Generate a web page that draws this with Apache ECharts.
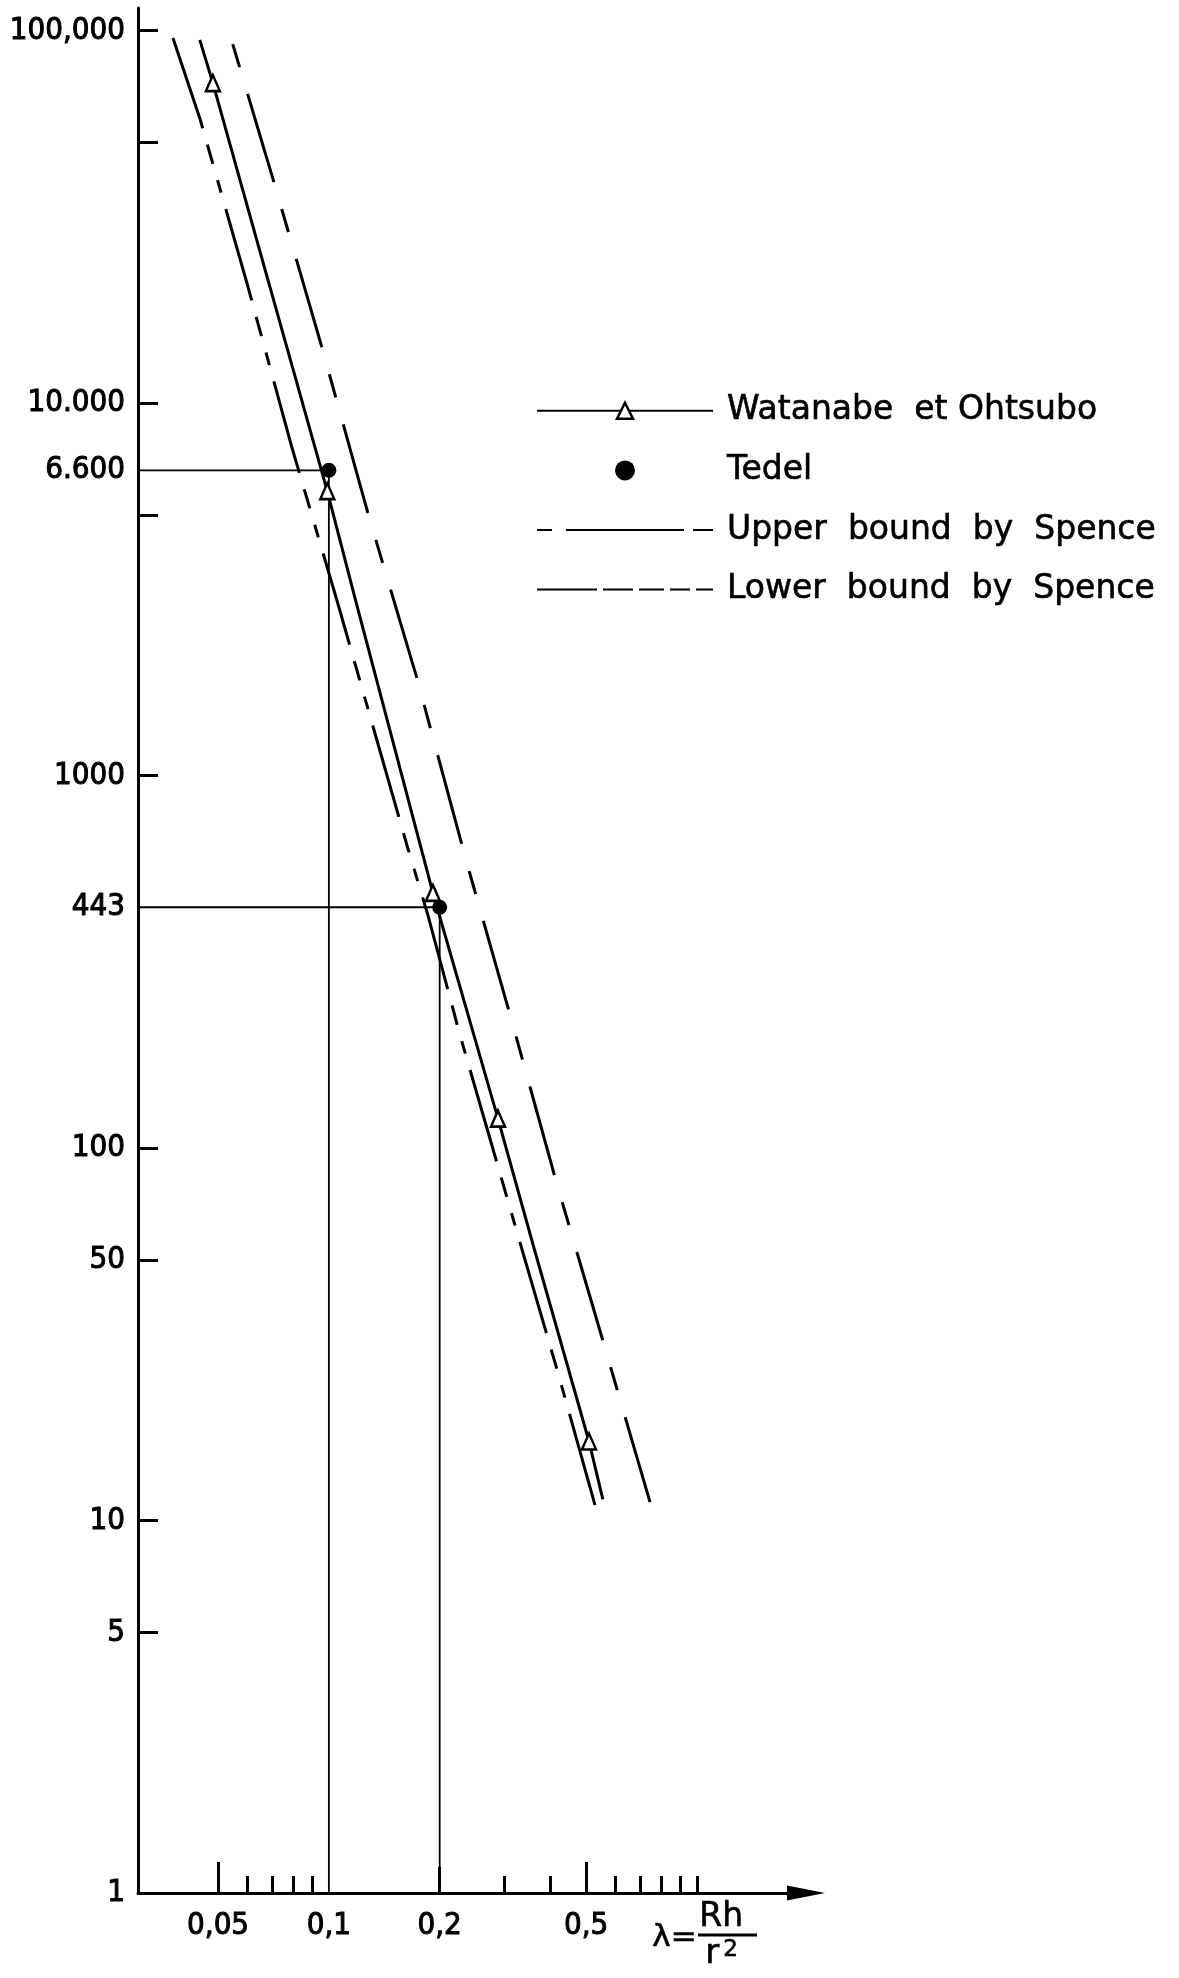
<!DOCTYPE html>
<html>
<head>
<meta charset="utf-8">
<script src="https://cdn.jsdelivr.net/npm/echarts@6/dist/echarts.min.js"></script>
<style>
html,body{margin:0;padding:0;background:#fff;}
#chart{width:1179px;height:1978px;}
</style>
</head>
<body>
<div id="chart"></div>
<script>
// ---------------- data ----------------
const watanabeLambda = [0.0446, 0.065, 0.1177, 0.3587, 0.4326, 0.555];
const watanabeN      = [94400, 25500, 3000, 55, 28.7, 11.4];
const triangleLambda = [0.0484, 0.099, 0.1917, 0.288, 0.509];
const triangleN      = [72300, 5800, 484, 120, 16.3];

const tedelLambda = [0.1, 0.2];
const tedelN      = [6600, 443];

const upperLambda = [0.0548, 0.0709, 0.0957, 0.1276, 0.1734, 0.2371, 0.3162, 0.414, 0.5514, 0.7455];
const upperN      = [92000, 39200, 14130, 5070, 1828, 582, 214, 81.6, 31.1, 11.2];

const lowerLambda = [0.0377, 0.0446, 0.0599, 0.0793, 0.1051, 0.1629, 0.1858, 0.2271, 0.3368, 0.4193, 0.5285];
const lowerN      = [95500, 58200, 21000, 7620, 2960, 651, 422, 201, 52.3, 24.9, 11.0];

const xLabelValues = [0.05, 0.1, 0.2, 0.5];
const xLabelTexts  = ['0,05', '0,1', '0,2', '0,5'];
const xMinorTicks  = [0.06, 0.07, 0.08, 0.09, 0.3, 0.4, 0.6, 0.7, 0.8, 0.9, 1.0];
const xMajorTicks  = [0.05, 0.5];
const xMidTicks    = [0.2];

const yTickValues  = [100000, 50000, 10000, 5000, 1000, 100, 50, 10, 5];
const yLabelValues = [100000, 10000, 6600, 1000, 443, 100, 50, 10, 5, 1];
const yLabelTexts  = ['100,000', '10.000', '6.600', '1000', '443', '100', '50', '10', '5', '1'];

const seriesNames = ['Watanabe  et Ohtsubo', 'Tedel', 'Upper  bound  by  Spence', 'Lower  bound  by  Spence'];

const X_MIN = 0.0303, X_MAX = 1.978, Y_MIN = 1, Y_MAX = 115000;

// ---------------- helpers ----------------
const NARROW = "'Liberation Sans Narrow','Arial Narrow','DejaVu Sans Condensed','Liberation Sans',sans-serif";
const SANS = "'DejaVu Sans','Liberation Sans',sans-serif";
function pick(values, texts) {
  return function (v) {
    for (let i = 0; i < values.length; i++) {
      if (Math.abs(values[i] - v) / values[i] < 1e-6) return texts[i];
    }
    return '';
  };
}
const zip = (a, b) => a.map((v, i) => [v, b[i]]);

const wPts = watanabeLambda.map((l, i) => ({ l, n: watanabeN[i], m: false }))
  .concat(triangleLambda.map((l, i) => ({ l, n: triangleN[i], m: true })))
  .sort((a, b) => a.l - b.l);
const watanabeData = wPts.map(p => p.m ? { value: [p.l, p.n] } : { value: [p.l, p.n], symbol: 'none' });

const guideSeries = tedelLambda.map((l, i) => ({
  type: 'line', name: 'guide' + i, silent: true, symbol: 'none', z: 1,
  data: [[X_MIN, tedelN[i]], [l, tedelN[i]], [l, Y_MIN]],
  lineStyle: { color: '#000', width: 1.8 }
}));

const black = '#000';
const labelStyle = { color: black, fontSize: 31, fontFamily: NARROW, textBorderColor: black, textBorderWidth: 1 };
function xAxisBase(extra) {
  return Object.assign({
    type: 'log', logBase: 10, min: X_MIN, max: X_MAX, position: 'bottom',
    splitLine: { show: false }, minorTick: { show: false }, minorSplitLine: { show: false },
    axisLine: { show: false, onZero: false },
    axisLabel: { show: false }
  }, extra);
}

const option = {
  animation: false,
  backgroundColor: '#fff',
  grid: { left: 138, right: 373, top: 8, bottom: 85, containLabel: false, outerBoundsMode: 'none' },
  xAxis: [
    xAxisBase({
      axisLine: { show: true, onZero: false, symbol: ['none', 'triangle'], symbolSize: [15, 38],
        lineStyle: { color: black, width: 3 } },
      axisTick: { show: true, inside: true, length: 17, customValues: xMinorTicks,
        lineStyle: { color: black, width: 3 } },
      axisLabel: Object.assign({ show: true, customValues: xLabelValues, formatter: pick(xLabelValues, xLabelTexts),
        margin: 17 }, labelStyle)
    }),
    xAxisBase({
      axisTick: { show: true, inside: true, length: 31, customValues: xMajorTicks,
        lineStyle: { color: black, width: 3 } }
    }),
    xAxisBase({
      axisTick: { show: true, inside: true, length: 26, customValues: xMidTicks,
        lineStyle: { color: black, width: 3 } }
    })
  ],
  yAxis: {
    type: 'log', logBase: 10, min: Y_MIN, max: Y_MAX,
    splitLine: { show: false }, minorTick: { show: false },
    axisLine: { show: true, onZero: false, lineStyle: { color: black, width: 3 } },
    axisTick: { show: true, inside: true, length: 20, customValues: yTickValues,
      lineStyle: { color: black, width: 3 } },
    axisLabel: Object.assign({ show: true, customValues: yLabelValues, formatter: pick(yLabelValues, yLabelTexts),
      margin: 13 }, labelStyle)
  },
  legend: {
    orient: 'vertical', left: 536, top: 394, padding: 0, itemWidth: 176, itemHeight: 20, itemGap: 26,
    selectedMode: false,
    textStyle: { color: black, fontSize: 33, fontFamily: SANS, padding: [0, 0, 0, 9],
      textBorderColor: black, textBorderWidth: 0.6 },
    data: [
      { name: seriesNames[0], itemStyle: { color: '#fff', borderColor: black, borderWidth: 2.5 } },
      { name: seriesNames[1], itemStyle: { color: black, opacity: 1 } },
      { name: seriesNames[2], itemStyle: { opacity: 0 }, lineStyle: { type: [15, 14, 118, 9, 20, 60] } },
      { name: seriesNames[3], itemStyle: { opacity: 0 }, lineStyle: { type: [60, 6, 30, 6, 25, 6, 20, 6, 17, 60] } }
    ]
  },
  series: guideSeries.concat([
    {
      type: 'line', name: seriesNames[3], symbol: 'none', z: 2,
      data: zip(lowerLambda, lowerN),
      lineStyle: { color: black, width: 3, type: [95, 17, 20, 17, 13, 17] }
    },
    {
      type: 'line', name: seriesNames[2], symbol: 'none', z: 2,
      data: zip(upperLambda, upperN),
      lineStyle: { color: black, width: 3, type: [24, 28, 92, 28] }
    },
    {
      type: 'line', name: seriesNames[0], symbol: 'triangle', symbolSize: [14, 16], showAllSymbol: true, z: 3,
      data: watanabeData,
      itemStyle: { color: '#fff', borderColor: black, borderWidth: 2.5 },
      lineStyle: { color: black, width: 3 }
    },
    {
      type: 'scatter', name: seriesNames[1], symbol: 'circle', symbolSize: 15, z: 4,
      data: zip(tedelLambda, tedelN),
      itemStyle: { color: black, opacity: 1 }
    }
  ]),
  graphic: [
    { type: 'text', left: 652, top: 1922, style: { text: 'λ=', font: '31px ' + SANS, fill: black, stroke: black, lineWidth: 0.6 } },
    { type: 'text', left: 699, top: 1901, style: { text: 'Rh', font: '33px ' + SANS, fill: black, stroke: black, lineWidth: 0.6 } },
    { type: 'line', shape: { x1: 698, y1: 1935, x2: 757, y2: 1935 }, style: { stroke: black, lineWidth: 3 } },
    { type: 'text', left: 705, top: 1937, style: { text: 'r', font: '34px ' + SANS, fill: black, stroke: black, lineWidth: 0.6 } },
    { type: 'text', left: 723, top: 1938, style: { text: '2', font: '23px ' + SANS, fill: black, stroke: black, lineWidth: 0.6 } }
  ]
};

const chart = echarts.init(document.getElementById('chart'), null, { renderer: 'canvas', width: 1179, height: 1978 });
chart.setOption(option);
</script>
</body>
</html>
